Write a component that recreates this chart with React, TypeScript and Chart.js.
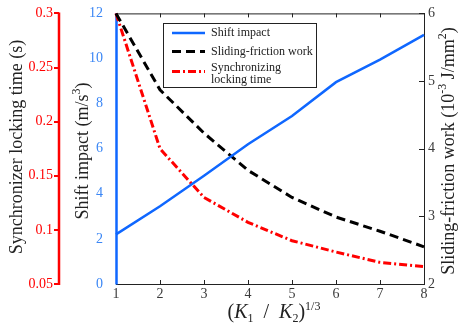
import { useEffect, useRef } from 'react';
import { Chart, registerables } from 'chart.js';

Chart.register(...registerables);

// ---- data ----
const xValues = [1, 2, 3, 4, 5, 6, 7, 8];
const shiftImpact = [2.2, 3.45, 4.8, 6.2, 7.45, 8.95, 9.95, 11.05];
const slidingWork = [6.0, 4.87, 4.23, 3.68, 3.28, 2.99, 2.78, 2.55];
const lockingTime = [0.3, 0.175, 0.13, 0.107, 0.09, 0.0795, 0.07, 0.066];

const xTicks = [1, 2, 3, 4, 5, 6, 7, 8];
const shiftTicks = [0, 2, 4, 6, 8, 10, 12];
const workTicks = [2, 3, 4, 5, 6];
const timeTicks = [0.05, 0.1, 0.15, 0.2, 0.25, 0.3];

const legendLabels = ['Shift impact', 'Sliding-friction work', 'Synchronizing', 'locking time'];

const FAM = '"Liberation Serif", "Times New Roman", serif';
const BLUE = '#0f67ff';
const BLUE_TXT = '#3a86f5';
const RED = '#ff0000';
const DARK = '#222222';
const GRAY_TXT = '#3a3a3a';

type Seg = { t: string; italic?: boolean; script?: 'sub' | 'sup' };

function drawRich(
  ctx: CanvasRenderingContext2D,
  segs: Seg[],
  cx: number,
  cy: number,
  rotate: boolean,
  size: number,
  scriptRatio = 0.68
) {
  const fontFor = (s: Seg) => `${s.italic ? 'italic ' : ''}${s.script ? Math.round(size * scriptRatio) : size}px ${FAM}`;
  let total = 0;
  const widths = segs.map((s) => {
    ctx.font = fontFor(s);
    const w = ctx.measureText(s.t).width;
    total += w;
    return w;
  });
  ctx.save();
  ctx.translate(cx, cy);
  if (rotate) ctx.rotate(-Math.PI / 2);
  ctx.textBaseline = 'alphabetic';
  ctx.textAlign = 'left';
  ctx.fillStyle = DARK;
  let x = -total / 2;
  const base = size * 0.33;
  segs.forEach((s, i) => {
    ctx.font = fontFor(s);
    const dy = s.script === 'sup' ? -size * 0.42 : s.script === 'sub' ? size * 0.22 : 0;
    ctx.fillText(s.t, x, base + dy);
    x += widths[i];
  });
  ctx.restore();
}

const framePlugin = {
  id: 'frameTicks',
  beforeDatasetsDraw(chart: any) {
    const { ctx, chartArea: a, scales } = chart;
    ctx.save();
    ctx.strokeStyle = DARK;
    ctx.lineWidth = 1;
    ctx.beginPath();
    ctx.moveTo(a.left, a.top + 0.5);
    ctx.lineTo(a.right, a.top + 0.5);
    ctx.stroke();
    xTicks.forEach((v) => {
      const px = Math.round(scales.x.getPixelForValue(v)) + 0.5;
      ctx.beginPath();
      ctx.moveTo(px, a.top);
      ctx.lineTo(px, a.top + 4);
      ctx.moveTo(px, a.bottom);
      ctx.lineTo(px, a.bottom - 4);
      ctx.stroke();
    });
    workTicks.forEach((v) => {
      const py = Math.round(scales.y2.getPixelForValue(v)) + 0.5;
      ctx.beginPath();
      ctx.moveTo(a.right, py);
      ctx.lineTo(a.right - 5, py);
      ctx.stroke();
    });
    // red axis line with outward ticks
    const ry = scales.y1;
    const rx = ry.right - 1;
    const rTop = ry.getPixelForValue(0.3);
    const rBot = ry.getPixelForValue(0.05);
    ctx.strokeStyle = RED;
    ctx.lineWidth = 2.5;
    ctx.beginPath();
    ctx.moveTo(rx, rTop - 1);
    ctx.lineTo(rx, rBot + 1);
    ctx.stroke();
    ctx.lineWidth = 2;
    timeTicks.forEach((v) => {
      const py = Math.round(ry.getPixelForValue(v));
      ctx.beginPath();
      ctx.moveTo(rx, py);
      ctx.lineTo(rx - 5, py);
      ctx.stroke();
    });
    // blue axis line
    const by = scales.y;
    ctx.strokeStyle = BLUE;
    ctx.lineWidth = 2.5;
    ctx.beginPath();
    ctx.moveTo(a.left + 0.5, by.getPixelForValue(12) - 0.5);
    ctx.lineTo(a.left + 0.5, by.getPixelForValue(0) + 0.5);
    ctx.stroke();
    ctx.restore();
  },
  afterDraw(chart: any) {
    const { ctx } = chart;
    // legend
    ctx.save();
    const bx = 163.5, by = 23.5, bw = 153, bh = 64;
    ctx.fillStyle = '#ffffff';
    ctx.fillRect(bx, by, bw, bh);
    ctx.strokeStyle = DARK;
    ctx.lineWidth = 1;
    ctx.strokeRect(bx, by, bw, bh);
    const lx0 = 172, lx1 = 205;
    const rows = [
      { y: 33, color: BLUE, dash: [] as number[], w: 2.5 },
      { y: 51.5, color: '#000000', dash: [9, 5], w: 3 },
      { y: 71.5, color: RED, dash: [8, 3, 2, 3], w: 3 },
    ];
    rows.forEach((r) => {
      ctx.beginPath();
      ctx.strokeStyle = r.color;
      ctx.lineWidth = r.w;
      ctx.setLineDash(r.dash);
      ctx.moveTo(lx0, r.y);
      ctx.lineTo(lx1, r.y);
      ctx.stroke();
    });
    ctx.setLineDash([]);
    ctx.fillStyle = DARK;
    ctx.font = `12px ${FAM}`;
    ctx.textBaseline = 'middle';
    ctx.textAlign = 'left';
    ctx.fillText(legendLabels[0], 211, 33);
    ctx.fillText(legendLabels[1], 211, 51.5);
    ctx.fillText(legendLabels[2], 211, 68);
    ctx.fillText(legendLabels[3], 211, 80);
    ctx.restore();

    // axis titles
    drawRich(ctx, [{ t: 'Synchronizer locking time (s)' }], 16, 147, true, 18);
    drawRich(ctx, [{ t: 'Shift impact (m/s' }, { t: '3', script: 'sup' }, { t: ')' }], 82, 151, true, 18);
    drawRich(
      ctx,
      [{ t: 'Sliding-friction work (10' }, { t: '-3', script: 'sup' }, { t: ' J/mm' }, { t: '2', script: 'sup' }, { t: ')' }],
      448,
      151,
      true,
      18
    );
    drawRich(
      ctx,
      [
        { t: '(' },
        { t: 'K', italic: true },
        { t: '1', script: 'sub' },
        { t: '\u2002/\u2002' },
        { t: 'K', italic: true },
        { t: '2', script: 'sub' },
        { t: ')' },
        { t: '1/3', script: 'sup' },
      ],
      274,
      311.4,
      false,
      20,
      0.62
    );
  },
};

const setTicks = (vals: number[]) => (scale: any) => {
  scale.ticks = vals.map((v) => ({ value: v }));
};

export default function App() {
  const ref = useRef<HTMLCanvasElement | null>(null);
  useEffect(() => {
    document.body.style.margin = '0';
    const canvas = ref.current!;
    const chart = new Chart(canvas, {
      type: 'line',
      data: {
        labels: xValues,
        datasets: [
          {
            label: 'Shift impact',
            data: xValues.map((x, i) => ({ x, y: shiftImpact[i] })),
            yAxisID: 'y',
            borderColor: BLUE,
            borderWidth: 2.5,
            pointRadius: 0,
            tension: 0,
            clip: 6,
          },
          {
            label: 'Sliding-friction work',
            data: xValues.map((x, i) => ({ x, y: slidingWork[i] })),
            yAxisID: 'y2',
            borderColor: '#000000',
            borderWidth: 3,
            borderDash: [9, 5],
            pointRadius: 0,
            tension: 0,
            clip: 6,
          },
          {
            label: 'Synchronizing locking time',
            data: xValues.map((x, i) => ({ x, y: lockingTime[i] })),
            yAxisID: 'y1',
            borderColor: RED,
            borderWidth: 3,
            borderDash: [8, 3, 2, 3],
            pointRadius: 0,
            tension: 0,
            clip: 6,
          },
        ],
      },
      options: {
        animation: false,
        responsive: false,
        devicePixelRatio: 1,
        layout: { padding: { top: 13, left: 0, right: 0, bottom: 0 } },
        plugins: { legend: { display: false }, tooltip: { enabled: false } },
        scales: {
          x: {
            type: 'linear',
            position: 'bottom',
            min: 1,
            max: 8,
            afterBuildTicks: setTicks(xTicks),
            afterFit: (s: any) => {
              s.height = 40;
            },
            grid: { display: true, drawOnChartArea: false, drawTicks: false },
            border: { display: true, color: DARK, width: 1 },
            ticks: { color: GRAY_TXT, font: { family: FAM, size: 14 }, padding: 2, maxRotation: 0 },
          },
          y: {
            type: 'linear',
            position: 'left',
            weight: 0,
            min: 0,
            max: 12,
            afterBuildTicks: setTicks(shiftTicks),
            afterFit: (s: any) => {
              s.width = 56;
            },
            grid: { display: false },
            border: { display: false },
            ticks: { color: BLUE_TXT, font: { family: FAM, size: 14 }, padding: 5 },
          },
          y1: {
            type: 'linear',
            position: 'left',
            weight: 1,
            min: 0.05,
            max: 0.3,
            afterBuildTicks: setTicks(timeTicks),
            afterFit: (s: any) => {
              s.width = 60;
            },
            grid: { display: false, drawTicks: true, tickLength: 6 },
            border: { display: false },
            ticks: {
              color: RED,
              font: { family: FAM, size: 14 },
              padding: 1,
              callback: (v: any) => String(+Number(v).toFixed(2)),
            },
          },
          y2: {
            type: 'linear',
            position: 'right',
            min: 2,
            max: 6,
            afterBuildTicks: setTicks(workTicks),
            afterFit: (s: any) => {
              s.width = 35;
            },
            grid: { display: true, drawOnChartArea: false, drawTicks: false },
            border: { display: true, color: DARK, width: 1 },
            ticks: { color: GRAY_TXT, font: { family: FAM, size: 14 }, padding: 4 },
          },
        },
      },
      plugins: [framePlugin],
    } as any);
    return () => chart.destroy();
  }, []);
  return <canvas ref={ref} width={459} height={324} style={{ display: 'block', width: 459, height: 324 }} />;
}
